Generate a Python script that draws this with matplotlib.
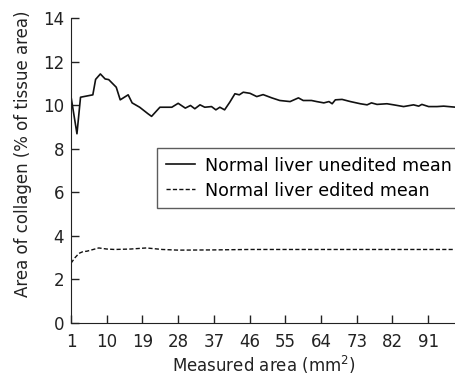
import matplotlib
matplotlib.use("Agg")
import matplotlib.pyplot as plt

# Unedited mean (solid line)
unedited_x = [1, 2.5, 3.4, 6.5, 7.2, 8.4, 9.6, 10.5, 12.4, 13.4, 15.4, 16.4,
              18.3, 20.4, 21.3, 23.4, 26.4, 28, 29.8, 31.1, 32.2, 33.5, 34.7,
              36.4, 37.5, 38.5, 39.7, 41, 42.3, 43.4, 44.4, 46.1, 47.8, 49.4,
              51.6, 53.6, 56.2, 58.3, 59.5, 61.6, 62.9, 64.7, 66, 66.8, 67.6,
              69.3, 71.4, 73.9, 75.6, 76.7, 78.1, 80.6, 82.3, 84.8, 87.3, 88.6,
              89.4, 91.1, 93.2, 94.9, 98]
unedited_y = [10.41, 8.7, 10.38, 10.49, 11.2, 11.45, 11.22, 11.19, 10.84, 10.26,
              10.49, 10.12, 9.92, 9.62, 9.5, 9.92, 9.92, 10.1, 9.88, 10.0, 9.85,
              10.03, 9.92, 9.95, 9.8, 9.92, 9.8, 10.15, 10.54, 10.49, 10.61,
              10.56, 10.41, 10.5, 10.35, 10.23, 10.18, 10.35, 10.23, 10.23,
              10.18, 10.12, 10.18, 10.08, 10.26, 10.28, 10.18, 10.08, 10.03,
              10.12, 10.05, 10.08, 10.03, 9.95, 10.03, 9.97, 10.05, 9.95, 9.95,
              9.97, 9.92]

# Edited mean (dashed line)
edited_x = [1, 2, 3, 4, 5, 6, 8, 10, 12, 16, 20, 24, 28, 37, 46, 60, 75, 98]
edited_y = [2.75, 3.0, 3.2, 3.28, 3.3, 3.35, 3.45, 3.4, 3.38, 3.4, 3.45, 3.38,
            3.35, 3.36, 3.38, 3.38, 3.38, 3.38]

xticks = [1, 10, 19, 28, 37, 46, 55, 64, 73, 82, 91]
yticks = [0, 2, 4, 6, 8, 10, 12, 14]

plt.rcParams["font.family"] = ["DejaVu Sans"]

fig = plt.figure(figsize=(4.56, 3.79), dpi=100)
ax = fig.add_axes([0.1557, 0.1478, 0.8443, 0.8034])

ax.plot(unedited_x, unedited_y, color="#111111", lw=1.2,
        label="Normal liver unedited mean")
ax.plot(edited_x, edited_y, color="#111111", lw=1.0, dashes=(3, 1.6),
        label="Normal liver edited mean")

ax.set_xlim(1, 98)
ax.set_ylim(0, 14)
ax.set_xticks(xticks)
ax.set_yticks(yticks)
ax.tick_params(direction="in", length=6, width=1, colors="#222222",
               labelsize=12)
ax.tick_params(axis="x", pad=7)
ax.tick_params(axis="y", pad=5)
ax.spines["top"].set_visible(False)
ax.spines["right"].set_visible(False)
for s in ["left", "bottom"]:
    ax.spines[s].set_color("#222222")

ax.set_xlabel("Measured area (mm$^2$)", fontsize=12, color="#222222",
              labelpad=2)
ax.set_ylabel("Area of collagen (% of tissue area)", fontsize=12,
              color="#222222")
ax.yaxis.set_label_coords(-0.102, 0.555)

leg = ax.legend(loc="upper left", bbox_to_anchor=(0.344, 0.610),
                bbox_transform=fig.transFigure, fancybox=False,
                handlelength=1.7, handletextpad=0.55, borderpad=0.5,
                labelspacing=0.4, fontsize=12.6, borderaxespad=0)
leg.get_frame().set_edgecolor("#333333")
leg.get_frame().set_linewidth(1.0)

fig.savefig("out.png", dpi=100)
